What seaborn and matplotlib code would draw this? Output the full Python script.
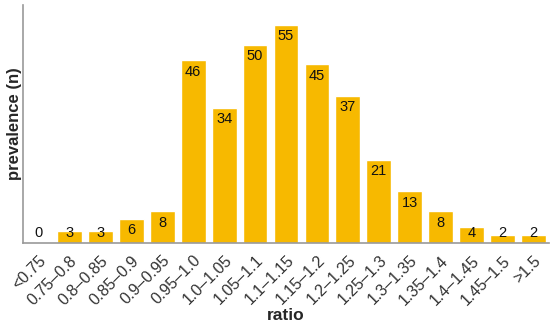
import pandas as pd
import seaborn as sns
import matplotlib.pyplot as plt

# Data
categories = ['<0.75', '0.75–0.8', '0.8–0.85', '0.85–0.9', '0.9–0.95', '0.95–1.0',
              '1.0–1.05', '1.05–1.1', '1.1–1.15', '1.15–1.2', '1.2–1.25', '1.25–1.3',
              '1.3–1.35', '1.35–1.4', '1.4–1.45', '1.45–1.5', '>1.5']
counts = [0, 3, 3, 6, 8, 46, 34, 50, 55, 45, 37, 21, 13, 8, 4, 2, 2]

df = pd.DataFrame({'ratio': categories, 'n': counts})

sns.set_style('white')
plt.rcParams['font.family'] = ['Liberation Sans', 'DejaVu Sans']

fig, ax = plt.subplots(figsize=(5.5, 3.25), dpi=100)
sns.barplot(x='ratio', y='n', data=df, color='#F7B900', saturation=1, width=0.8, ax=ax)

# value labels just inside the top of each bar
for i, v in enumerate(counts):
    ax.annotate(str(v), (i, max(v, 5.3)), xytext=(0, -3), textcoords='offset points',
                ha='center', va='top', fontsize=10.5, color='#111111')

ax.set_xlim(-0.5, len(categories) - 0.5)
ax.set_ylim(0, 60)
ax.set_yticks([])
ax.tick_params(axis='x', length=0, pad=7, labelsize=11.5)
plt.setp(ax.get_xticklabels(), rotation=45, ha='right', rotation_mode='anchor', color='#333333')

for s in ['top', 'right']:
    ax.spines[s].set_visible(False)
for s in ['left', 'bottom']:
    ax.spines[s].set_color('#999999')
    ax.spines[s].set_linewidth(1.2)

ax.set_xlabel('ratio', fontsize=12.5, fontweight='bold', labelpad=0)
ax.set_ylabel('prevalence (n)', fontsize=12, fontweight='bold', labelpad=1)

plt.subplots_adjust(left=0.042, right=0.998, top=0.985, bottom=0.252)
plt.savefig('out.png', dpi=100)
